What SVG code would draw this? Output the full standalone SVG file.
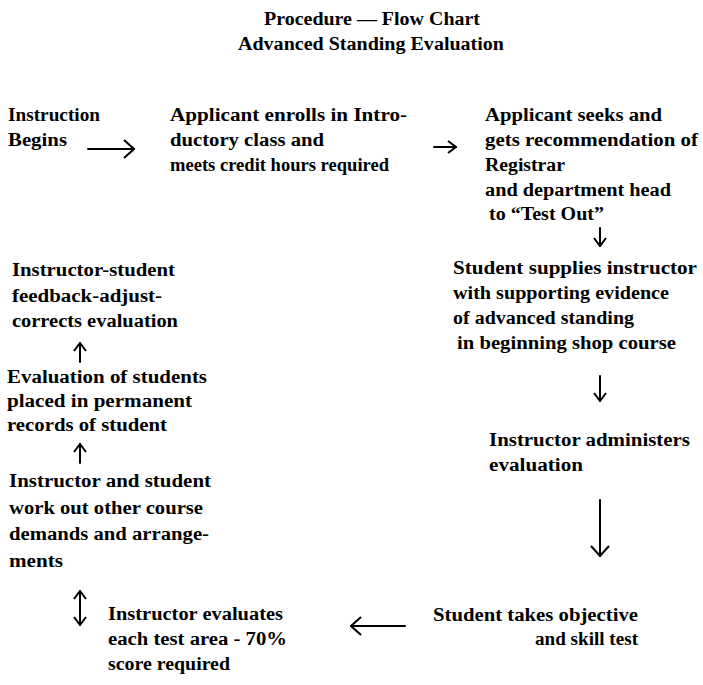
<svg xmlns="http://www.w3.org/2000/svg" width="703" height="685" viewBox="0 0 703 685">
<style>
text{font-family:"Liberation Serif","Times New Roman",serif;font-weight:bold;font-size:18px;fill:#000}
.t{font-size:18px}
.c{stroke:#000;stroke-width:2;fill:none;stroke-linecap:round}
</style>
<defs>
<marker id="ah" viewBox="0 0 12 20" refX="11" refY="10" markerWidth="12" markerHeight="20" markerUnits="userSpaceOnUse" orient="auto-start-reverse">
<path d="M1,1 L11,10 L1,19" fill="none" stroke="#000" stroke-width="2"/>
</marker>
<marker id="as" viewBox="0 0 10 14" refX="9" refY="7" markerWidth="10" markerHeight="14" markerUnits="userSpaceOnUse" orient="auto-start-reverse">
<path d="M1,1 L9,7 L1,13" fill="none" stroke="#000" stroke-width="2"/>
</marker>
</defs>
<rect width="703" height="685" fill="#fff"/>
<g id="title">
<text class="t" x="264" y="25" textLength="216" lengthAdjust="spacingAndGlyphs">Procedure — Flow Chart</text>
<text class="t" x="238" y="50" textLength="266" lengthAdjust="spacingAndGlyphs">Advanced Standing Evaluation</text>
</g>
<g id="n1">
<text x="8" y="121" textLength="92" lengthAdjust="spacingAndGlyphs">Instruction</text>
<text x="8" y="146" textLength="59" lengthAdjust="spacingAndGlyphs">Begins</text>
</g>
<g id="n2">
<text x="170" y="121" textLength="237" lengthAdjust="spacingAndGlyphs">Applicant enrolls in Intro-</text>
<text x="170" y="146" textLength="154" lengthAdjust="spacingAndGlyphs">ductory class and</text>
<text x="170" y="171" textLength="219" lengthAdjust="spacingAndGlyphs">meets credit hours required</text>
</g>
<g id="n3">
<text x="485" y="121" textLength="177" lengthAdjust="spacingAndGlyphs">Applicant seeks and</text>
<text x="485" y="146" textLength="213" lengthAdjust="spacingAndGlyphs">gets recommendation of</text>
<text x="485" y="171" textLength="80" lengthAdjust="spacingAndGlyphs">Registrar</text>
<text x="485" y="196" textLength="186" lengthAdjust="spacingAndGlyphs">and department head</text>
<text x="489" y="220" textLength="115" lengthAdjust="spacingAndGlyphs">to “Test Out”</text>
</g>
<g id="n4">
<text x="453" y="274" textLength="244" lengthAdjust="spacingAndGlyphs">Student supplies instructor</text>
<text x="453" y="299" textLength="216" lengthAdjust="spacingAndGlyphs">with supporting evidence</text>
<text x="453" y="324" textLength="181" lengthAdjust="spacingAndGlyphs">of advanced standing</text>
<text x="457" y="349" textLength="219" lengthAdjust="spacingAndGlyphs">in beginning shop course</text>
</g>
<g id="n5">
<text x="489" y="446" textLength="201" lengthAdjust="spacingAndGlyphs">Instructor administers</text>
<text x="489" y="471" textLength="94" lengthAdjust="spacingAndGlyphs">evaluation</text>
</g>
<g id="n6">
<text x="433" y="621" textLength="205" lengthAdjust="spacingAndGlyphs">Student takes objective</text>
<text x="535" y="645" textLength="103" lengthAdjust="spacingAndGlyphs">and skill test</text>
</g>
<g id="n7">
<text x="108" y="620" textLength="175" lengthAdjust="spacingAndGlyphs">Instructor evaluates</text>
<text x="108" y="645" textLength="179" lengthAdjust="spacingAndGlyphs">each test area - 70%</text>
<text x="108" y="670" textLength="122" lengthAdjust="spacingAndGlyphs">score required</text>
</g>
<g id="n8">
<text x="9" y="487" textLength="202" lengthAdjust="spacingAndGlyphs">Instructor and student</text>
<text x="9" y="514" textLength="194" lengthAdjust="spacingAndGlyphs">work out other course</text>
<text x="9" y="540" textLength="200" lengthAdjust="spacingAndGlyphs">demands and arrange-</text>
<text x="9" y="567" textLength="54" lengthAdjust="spacingAndGlyphs">ments</text>
</g>
<g id="n9">
<text x="7" y="383" textLength="200" lengthAdjust="spacingAndGlyphs">Evaluation of students</text>
<text x="7" y="407" textLength="185" lengthAdjust="spacingAndGlyphs">placed in permanent</text>
<text x="7" y="431" textLength="160" lengthAdjust="spacingAndGlyphs">records of student</text>
</g>
<g id="n10">
<text x="12" y="276" textLength="163" lengthAdjust="spacingAndGlyphs">Instructor-student</text>
<text x="12" y="302" textLength="150" lengthAdjust="spacingAndGlyphs">feedback-adjust-</text>
<text x="12" y="327" textLength="166" lengthAdjust="spacingAndGlyphs">corrects evaluation</text>
</g>
<g id="connectors">
<line class="c" x1="88" y1="149" x2="134" y2="149" marker-end="url(#ah)"/>
<line class="c" x1="434" y1="147" x2="456" y2="147" marker-end="url(#as)"/>
<line class="c" x1="600" y1="228" x2="600" y2="246" marker-end="url(#as)"/>
<line class="c" x1="600" y1="376" x2="600" y2="401" marker-end="url(#as)"/>
<line class="c" x1="600" y1="500" x2="600" y2="556" marker-end="url(#ah)"/>
<line class="c" x1="405" y1="626" x2="351" y2="626" marker-end="url(#ah)"/>
<line class="c" x1="80" y1="591" x2="80" y2="625" marker-start="url(#as)" marker-end="url(#as)"/>
<line class="c" x1="80" y1="463" x2="80" y2="444" marker-end="url(#as)"/>
<line class="c" x1="80" y1="362" x2="80" y2="343" marker-end="url(#as)"/>
</g>
</svg>
